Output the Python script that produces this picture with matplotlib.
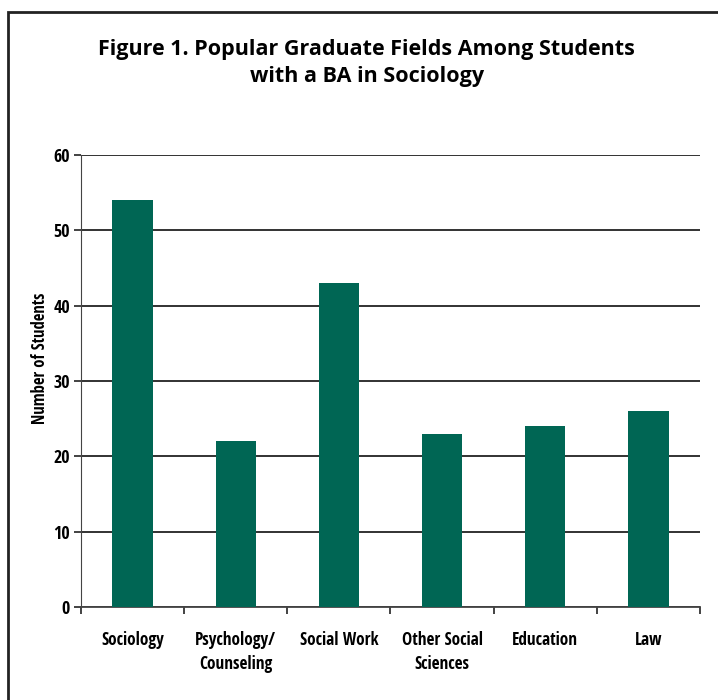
import matplotlib.pyplot as plt
from matplotlib.patches import Rectangle

categories = ["Sociology", "Psychology/\nCounseling", "Social Work",
              "Other Social\nSciences", "Education", "Law"]
students = [54, 22, 43, 23, 24, 26]
yticks = [0, 10, 20, 30, 40, 50, 60]

cond = "Open Sans Condensed"
green = "#006654"

fig = plt.figure(figsize=(7.18, 7.0), dpi=100)
ax = fig.add_axes([81 / 718, 1 - 607 / 700, (700 - 81) / 718, (607 - 155) / 700])

x = range(len(categories))
ax.bar(x, students, width=0.39, color=green, zorder=3)
ax.set_xlim(-0.5, len(categories) - 0.5)
ax.set_ylim(0, 60)
ax.set_yticks(yticks)
ax.set_yticklabels([str(t) for t in yticks], fontfamily=cond, fontweight="bold", fontsize=13)

# ticks at category boundaries, labels under bars
ax.set_xticks([i - 0.5 for i in range(len(categories) + 1)])
ax.set_xticklabels([])
ax.set_xticks(list(x), minor=True)
ax.set_xticklabels(categories, minor=True, fontfamily=cond, fontweight="bold",
                   fontsize=12.3, linespacing=1.45)
ax.tick_params(axis="x", which="minor", length=0, pad=17)
ax.tick_params(axis="x", which="major", direction="out", length=5, width=1.2, color="#222222")
ax.tick_params(axis="y", direction="out", length=5, width=1.2, color="#222222", pad=3)

ax.yaxis.grid(True, color="#222222", linewidth=1.3, zorder=0)
for s in ["top", "right"]:
    ax.spines[s].set_visible(False)
ax.spines["left"].set_color("#444444")
ax.spines["bottom"].set_color("#444444")
ax.spines["bottom"].set_linewidth(1.3)

ax.set_ylabel("Number of Students", fontfamily=cond, fontweight="bold", fontsize=12)
ax.yaxis.set_label_coords(-0.052, 0.55)

fig.text(0.511, 1 - 63 / 700, "Figure 1. Popular Graduate Fields Among Students\nwith a BA in Sociology",
         ha="center", va="center", fontfamily="Open Sans", fontweight="bold", fontsize=15.5,
         linespacing=1.4)

# frame around the figure (right and bottom edges run off the image)
fig.patches.append(Rectangle((8 / 718, -0.1), 1.2, 1 - 12 / 700 + 0.1, transform=fig.transFigure,
                             fill=False, edgecolor="#222222", linewidth=2))

plt.savefig("out.png", dpi=100)
